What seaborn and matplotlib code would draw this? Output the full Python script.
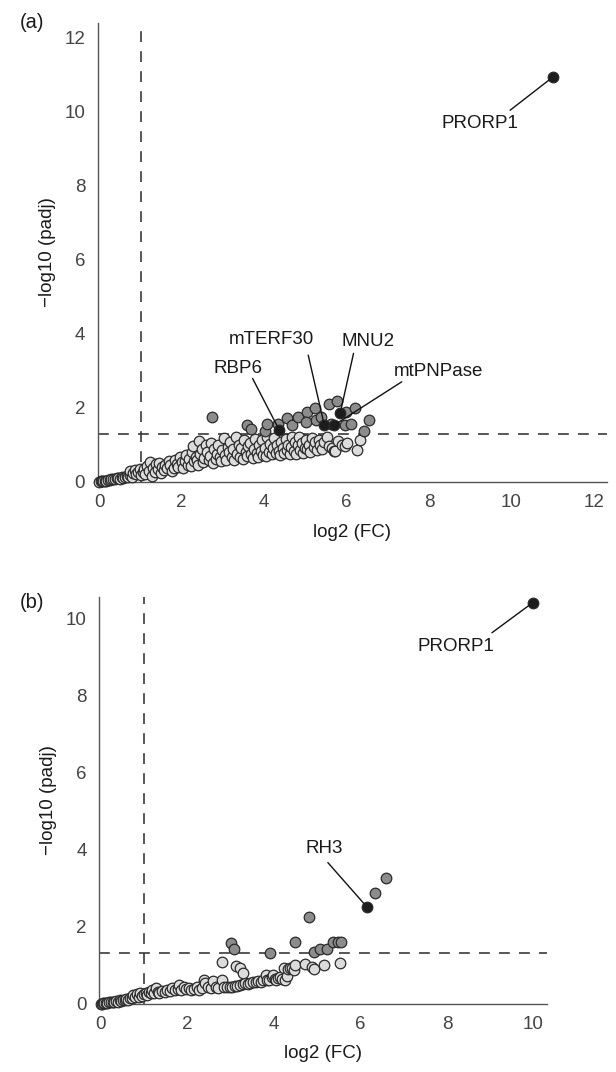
import matplotlib
matplotlib.use("Agg")
import matplotlib.pyplot as plt
import seaborn as sns
import pandas as pd

# ---------------- data: panel (a) ----------------
a_light_x = [0.00,0.03,0.06,0.10,0.13,0.17,0.21,0.25,0.29,0.33,0.38,0.42,0.46,0.50,0.54,0.58,0.62,0.66,0.70,0.74,0.75,0.79,0.82,0.86,0.90,0.94,0.98,1.02,
             1.05,1.08,1.12,1.16,1.20,1.22,1.27,1.30,1.34,1.38,1.42,1.45,1.50,1.53,1.57,1.60,1.64,1.68,1.72,1.76,1.80,1.84,1.88,1.92,1.96,2.00,
             2.04,2.08,2.10,2.14,2.18,2.22,2.26,2.28,2.30,2.34,2.37,2.40,2.43,2.45,2.48,2.52,2.55,2.58,2.62,2.65,2.68,2.72,2.75,2.78,2.82,2.85,2.88,2.92,2.96,2.98,
             3.02,3.05,3.08,3.12,3.15,3.18,3.22,3.25,3.28,3.32,3.35,3.38,3.42,3.45,3.48,3.52,3.55,3.58,3.62,3.65,3.68,3.72,3.75,3.78,3.82,3.85,3.88,3.92,3.96,3.98,
             4.02,4.05,4.08,4.12,4.15,4.18,4.22,4.25,4.28,4.32,4.35,4.38,4.42,4.45,4.48,4.52,4.55,4.58,4.62,4.65,4.68,4.72,4.75,4.78,4.82,4.85,4.88,4.92,4.95,4.98,
             5.02,5.05,5.08,5.12,5.15,5.20,5.24,5.28,5.32,5.36,5.40,5.45,5.52,5.58,5.64,5.70,5.72,5.80,5.90,5.96,6.00,6.25,6.33]
a_light_y = [0.00,0.01,0.01,0.02,0.03,0.03,0.04,0.05,0.06,0.06,0.07,0.09,0.10,0.08,0.12,0.10,0.13,0.16,0.12,0.18,0.30,0.14,0.24,0.31,0.20,0.27,0.33,0.18,
             0.26,0.35,0.22,0.42,0.30,0.52,0.16,0.38,0.27,0.47,0.34,0.50,0.24,0.40,0.31,0.46,0.36,0.56,0.44,0.30,0.37,0.58,0.48,0.41,0.66,0.52,
             0.38,0.55,0.72,0.46,0.62,0.42,0.80,0.96,0.56,0.68,0.60,0.46,1.10,0.74,0.88,0.52,0.64,0.98,0.80,0.58,0.70,1.05,0.50,0.88,0.62,0.76,1.00,0.66,0.56,0.86,
             1.18,0.72,0.60,0.95,0.80,1.08,0.66,0.88,0.58,1.20,0.76,1.00,0.68,0.90,0.62,1.12,0.80,0.70,0.96,1.05,0.74,0.64,0.88,1.16,0.78,0.68,0.98,0.84,1.12,0.72,
             0.92,0.70,1.20,0.80,1.02,0.74,0.90,1.18,0.78,1.00,0.84,0.72,1.08,0.92,0.78,1.15,0.86,1.00,0.76,0.94,1.22,0.82,1.06,0.74,0.98,1.20,0.86,1.04,0.78,0.92,
             1.14,0.88,1.00,0.80,1.18,0.94,1.08,0.86,1.12,0.98,0.88,1.06,1.20,0.96,0.90,0.84,0.83,1.10,1.00,0.97,1.04,0.85,1.13]
a_grey_x = [2.74,3.58,3.67,4.02,4.08,4.33,4.55,4.68,4.81,5.03,5.02,5.23,5.26,5.38,5.58,5.62,5.78,5.96,5.99,6.12,6.21,6.55,6.42]
a_grey_y = [1.76,1.53,1.43,1.38,1.55,1.55,1.73,1.53,1.75,1.88,1.62,2.00,1.67,1.76,2.10,1.55,2.19,1.53,1.89,1.57,1.98,1.67,1.38]
a_black_x = [4.37,5.46,5.70,5.85,11.00]
a_black_y = [1.39,1.53,1.53,1.87,10.93]
a_labels = ["RBP6", "mTERF30", "mtPNPase", "MNU2", "PRORP1"]
a_text_xy = [(3.37,3.06),(4.18,3.83),(8.23,2.97),(6.53,3.78),(9.24,9.67)]
a_line_start = [(3.72,2.79),(5.07,3.42),(7.34,2.70),(6.17,3.47),(9.97,10.04)]

# ---------------- data: panel (b) ----------------
b_light_x = [0.00,0.03,0.06,0.09,0.12,0.16,0.20,0.24,0.28,0.32,0.36,0.40,0.44,0.48,0.52,0.56,0.60,0.64,0.68,0.72,0.76,0.80,0.84,0.88,0.92,0.96,1.00,
             1.04,1.08,1.12,1.16,1.20,1.24,1.28,1.32,1.36,1.42,1.48,1.54,1.60,1.66,1.72,1.78,1.82,1.86,1.92,1.98,
             2.04,2.10,2.16,2.22,2.28,2.34,2.40,2.42,2.48,2.54,2.60,2.66,2.72,2.80,2.86,2.92,2.98,
             3.04,3.10,3.16,3.22,3.28,3.34,3.40,3.46,3.52,3.58,3.64,3.70,3.76,3.82,3.84,3.90,3.96,3.99,
             4.02,4.06,4.10,4.14,4.20,4.24,4.26,4.30,4.34,4.38,4.42,4.46,4.49,
             2.80,3.12,3.22,3.28,4.72,4.88,4.93,5.16,5.52]
b_light_y = [0.00,0.00,0.01,0.01,0.02,0.02,0.03,0.03,0.04,0.05,0.06,0.05,0.08,0.07,0.10,0.09,0.12,0.10,0.14,0.13,0.22,0.16,0.25,0.18,0.28,0.20,0.24,
             0.28,0.22,0.30,0.26,0.34,0.28,0.40,0.30,0.26,0.32,0.30,0.36,0.32,0.40,0.34,0.38,0.48,0.36,0.42,0.38,
             0.40,0.36,0.38,0.42,0.36,0.40,0.62,0.52,0.42,0.40,0.58,0.44,0.40,0.60,0.42,0.44,0.42,
             0.44,0.46,0.45,0.48,0.50,0.52,0.50,0.54,0.56,0.55,0.58,0.57,0.60,0.74,0.62,0.62,0.70,0.74,
             0.64,0.61,0.66,0.70,0.64,0.93,0.62,0.72,0.90,0.93,0.92,0.87,1.00,
             1.09,0.98,0.93,0.78,1.03,0.95,0.90,0.99,1.05]
b_grey_x = [3.01,3.09,3.91,4.49,4.82,4.93,5.08,5.24,5.36,5.49,5.55,6.34,6.59]
b_grey_y = [1.58,1.42,1.30,1.59,2.24,1.33,1.42,1.42,1.59,1.59,1.59,2.88,3.25]
b_black_x = [6.15,9.98]
b_black_y = [2.51,10.41]
b_labels = ["RH3", "PRORP1"]
b_text_xy = [(5.17,4.03),(8.21,9.27)]
b_line_start = [(5.25,3.66),(9.04,9.63)]

a_xticks = [0, 2, 4, 6, 8, 10, 12]
a_yticks = [0, 2, 4, 6, 8, 10, 12]
b_xticks = [0, 2, 4, 6, 8, 10]
b_yticks = [0, 2, 4, 6, 8, 10]
fc_threshold = 1.0
padj_threshold = 1.3

# ---------------- style ----------------
sns.set_theme(style="white")
plt.rcParams["font.family"] = ["Liberation Sans", "DejaVu Sans"]

LIGHT = "#dcdcdc"
GREY = "#8c8c8c"
BLACK = "#1c1c1c"
EDGE = "#2a2a2a"
SPINE = "#555555"
TICKC = "#444444"
FS = 13.5
S = 58

fig = plt.figure(figsize=(6.16, 10.72), dpi=100)
ax_a = fig.add_axes([97.7/616, 590.3/1072, 509.2/616, 458.4/1072])
ax_b = fig.add_axes([99.0/616, 68.5/1072, 448.4/616, 406.2/1072])


def draw(ax, lx, ly, gx, gy, kx, ky, labels, text_xy, line_start, xt, yt, xlim, ylim):
    for xs, ys, col in [(lx, ly, LIGHT), (gx, gy, GREY), (kx, ky, BLACK)]:
        df = pd.DataFrame({"x": xs, "y": ys})
        sns.scatterplot(data=df, x="x", y="y", ax=ax, s=S, color=col,
                        edgecolor=EDGE, linewidth=0.9, clip_on=False, zorder=3)
    ax.axvline(fc_threshold, color="#3a3a3a", lw=1.2, ls=(0, (6.5, 5.5)), zorder=1)
    ax.axhline(padj_threshold, color="#3a3a3a", lw=1.2, ls=(0, (6.5, 5.5)), zorder=1)
    for lab, (tx, ty), (sx, sy), px, py in zip(labels, text_xy, line_start,
                                                kx, ky):
        ax.text(tx, ty, lab, ha="center", va="center", fontsize=FS, color="#1a1a1a")
        ax.annotate("", xy=(px, py), xytext=(sx, sy),
                    arrowprops=dict(arrowstyle="-", color="#111111", lw=1.0,
                                    shrinkA=0, shrinkB=3))
    ax.set_xlim(*xlim)
    ax.set_ylim(*ylim)
    ax.set_xticks(xt)
    ax.set_yticks(yt)
    ax.set_xticklabels([str(t) for t in xt])
    ax.set_yticklabels([str(t) for t in yt])
    ax.tick_params(length=0, labelsize=FS, labelcolor=TICKC, pad=9)
    for side in ["top", "right"]:
        ax.spines[side].set_visible(False)
    for side in ["left", "bottom"]:
        ax.spines[side].set_color(SPINE)
        ax.spines[side].set_linewidth(1.0)
    ax.set_xlabel("log2 (FC)", fontsize=FS, color="#1a1a1a", labelpad=9)
    ax.set_ylabel("\u2212log10 (padj)", fontsize=FS, color="#1a1a1a", labelpad=6)


draw(ax_a, a_light_x, a_light_y, a_grey_x, a_grey_y, a_black_x, a_black_y,
     a_labels, a_text_xy, a_line_start, a_xticks, a_yticks, (-0.04, 12.32), (0, 12.39))
draw(ax_b, b_light_x, b_light_y, b_grey_x, b_grey_y, b_black_x, b_black_y,
     b_labels, b_text_xy, b_line_start, b_xticks, b_yticks, (-0.035, 10.32), (0, 10.55))

fig.text(32/616, 1 - 23/1072, "(a)", ha="center", va="center", fontsize=14.5, color="#1a1a1a")
fig.text(32/616, 1 - 602/1072, "(b)", ha="center", va="center", fontsize=14.5, color="#1a1a1a")

fig.savefig("out.png", dpi=100)
